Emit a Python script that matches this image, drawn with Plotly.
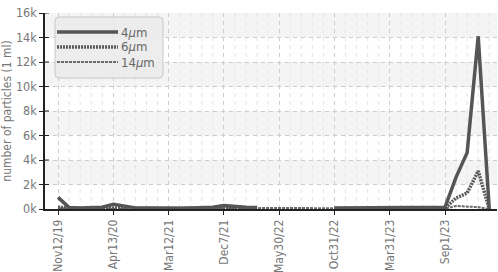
import plotly.graph_objects as go

dates = ["Nov12/19", "Dec10/19", "Jan14/20", "Feb11/20", "Mar10/20",
         "Apr13/20", "Jun8/20", "Aug3/20", "Oct5/20", "Dec14/20",
         "Mar12/21", "May10/21", "Jun14/21", "Aug9/21", "Oct4/21",
         "Dec7/21", "Jan17/22", "Feb21/22", "Mar28/22", "Apr25/22",
         "May30/22", "Jun27/22", "Jul25/22", "Aug29/22", "Sep26/22",
         "Oct31/22", "Nov28/22", "Dec19/22", "Jan30/23", "Feb27/23",
         "Mar31/23", "Apr28/23", "May26/23", "Jun30/23", "Jul28/23",
         "Sep1/23", "Sep15/23", "Sep29/23", "Oct13/23", "Oct27/23"]

s4 = [950, 120, 80, 90, 150, 380, 200, 90, 80, 60,
      70, 60, 80, 120, 150, 280, 200, 150, 120, None,
      None, None, None, None, None, 80, 90, 120, 100, 110,
      150, 120, 100, 140, 160, 150, 2600, 4600, 14100, 0]
s6 = [150, 60, 40, 50, 60, 120, 80, 50, 40, 30,
      40, 40, 50, 60, 70, 100, 80, 60, 50, None,
      None, None, None, None, None, 40, 40, 50, 50, 60,
      70, 60, 50, 60, 70, 60, 900, 1300, 3100, 0]
s14 = [60, 30, 20, 20, 30, 50, 40, 30, 20, 20,
       20, 20, 30, 30, 30, 40, 30, 30, 30, 60,
       80, 90, 70, 80, 70, 20, 20, 30, 30, 30,
       30, 30, 30, 30, 30, 30, 250, 200, 150, 0]

names = ["4\u03bcm", "6\u03bcm", "14\u03bcm"]
legend_text = ["4<i>\u03bc</i>m", "6<i>\u03bc</i>m", "14<i>\u03bc</i>m"]
ytick_vals = [0, 2000, 4000, 6000, 8000, 10000, 12000, 14000, 16000]
ytick_text = ["0k", "2k", "4k", "6k", "8k", "10k", "12k", "14k", "16k"]
label_dates = dates[::5]

FONT = "DejaVu Sans Condensed, Liberation Sans Narrow, sans-serif"
styles = [dict(color="#555555", width=3.5, dash="solid"),
          dict(color="#5a5a5a", width=3.5, dash="2px,1px"),
          dict(color="#6a6a6a", width=2, dash="3px,1px")]

series = [s4, s6, s14]
fig = go.Figure()
for i in [2, 1, 0]:
    fig.add_trace(go.Scatter(x=dates, y=series[i], name=names[i], mode="lines",
                             line=styles[i], connectgaps=False, showlegend=False))

shapes = []
for k in range(1, len(ytick_vals) - 1, 2):
    shapes.append(dict(type="rect", xref="paper", x0=0, x1=1, yref="y",
                       y0=ytick_vals[k], y1=ytick_vals[k + 1],
                       fillcolor="#f4f4f4", line=dict(width=0), layer="below"))
for d in dates:
    if d in label_dates:
        continue
    shapes.append(dict(type="line", xref="x", x0=d, x1=d, yref="paper", y0=0, y1=1,
                       line=dict(color="#e4e4e4", width=1, dash="4px,4px"), layer="below"))
# short inner tick marks on the y axis (ticks cross the axis line)
for v in ytick_vals[1:]:
    shapes.append(dict(type="line", xref="paper", x0=0, x1=4 / 452.0, yref="y", y0=v, y1=v,
                       line=dict(color="#222222", width=1)))

W, H = 452.0, 196.0
def px(x):
    return (x - 45) / W
def py(y):
    return (209 - y) / H
bx0, bx1, by0, by1 = px(55), px(163), py(78), py(17)
rx, ry = 4 / W, 4 / H
path = (f"M {bx0+rx},{by0} L {bx1-rx},{by0} Q {bx1},{by0} {bx1},{by0+ry} "
        f"L {bx1},{by1-ry} Q {bx1},{by1} {bx1-rx},{by1} L {bx0+rx},{by1} "
        f"Q {bx0},{by1} {bx0},{by1-ry} L {bx0},{by0+ry} Q {bx0},{by0} {bx0+rx},{by0} Z")
shapes.append(dict(type="path", xref="paper", yref="paper", path=path,
                   fillcolor="rgba(235,235,235,0.9)", line=dict(color="#c8c8c8", width=1)))
annotations = []
for i, yy in enumerate([32, 47, 62]):
    shapes.append(dict(type="line", xref="paper", yref="paper", x0=px(57), x1=px(118),
                       y0=py(yy), y1=py(yy), line=styles[i]))
    annotations.append(dict(xref="paper", yref="paper", x=px(119), y=py(yy), text=legend_text[i],
                            showarrow=False, xanchor="left", yanchor="middle",
                            font=dict(family=FONT, size=13, color="#666666")))

fig.update_layout(
    width=498, height=272,
    margin=dict(l=45, r=1, t=13, b=63, autoexpand=False),
    paper_bgcolor="white", plot_bgcolor="white",
    showlegend=False,
    shapes=shapes, annotations=annotations,
    font=dict(family=FONT, size=12, color="#777777"),
    xaxis=dict(type="category", range=[-1.18, 39.7], autorange=False, tickmode="array",
               tickvals=label_dates, ticktext=label_dates, tickangle=-90, automargin=False,
               showgrid=True, gridcolor="#cccccc", griddash="4px,4px", gridwidth=1,
               showline=True, linecolor="#222222", linewidth=1.5,
               ticks="outside", ticklen=4, tickcolor="#222222",
               tickfont=dict(family=FONT, size=12, color="#777777"), zeroline=False),
    yaxis=dict(range=[0, 16000], autorange=False, tickmode="array", tickvals=ytick_vals,
               ticktext=ytick_text, automargin=False,
               showgrid=True, gridcolor="#cccccc", griddash="4px,4px", gridwidth=1,
               showline=True, linecolor="#222222", linewidth=1.5,
               ticks="outside", ticklen=4, tickcolor="#222222", zeroline=False,
               tickfont=dict(family=FONT, size=12.5, color="#777777"),
               title=dict(text="number of particles (1 ml)", standoff=4,
                          font=dict(family=FONT, size=12, color="#777777"))),
)
fig.write_html("out.html", config={"displayModeBar": False},
               post_script="document.body.style.margin='0';")
